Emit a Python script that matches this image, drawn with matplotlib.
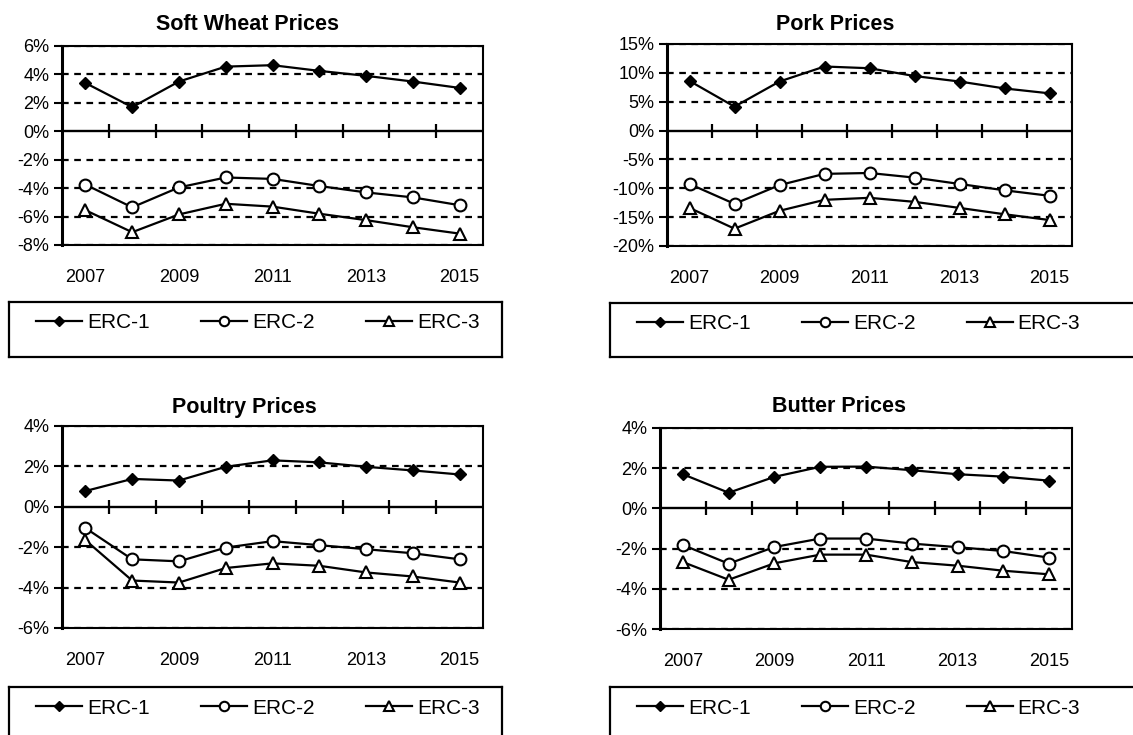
import numpy as np
import matplotlib
matplotlib.use("Agg")
import matplotlib.pyplot as plt
from matplotlib.ticker import FuncFormatter

plt.rcParams['font.family'] = ['Liberation Sans', 'DejaVu Sans']
plt.rcParams['font.size'] = 13

years = [2007, 2008, 2009, 2010, 2011, 2012, 2013, 2014, 2015]
year_labels = ['2007', '2009', '2011', '2013', '2015']
series_names = ['ERC-1', 'ERC-2', 'ERC-3']

wheat_erc1 = [3.4, 1.7, 3.5, 4.55, 4.65, 4.25, 3.9, 3.5, 3.05]
wheat_erc2 = [-3.75, -5.35, -3.95, -3.25, -3.35, -3.85, -4.3, -4.65, -5.2]
wheat_erc3 = [-5.55, -7.1, -5.85, -5.1, -5.3, -5.8, -6.25, -6.75, -7.2]

pork_erc1 = [8.6, 4.15, 8.5, 11.1, 10.8, 9.45, 8.5, 7.3, 6.45]
pork_erc2 = [-9.25, -12.7, -9.45, -7.5, -7.35, -8.15, -9.25, -10.35, -11.3]
pork_erc3 = [-13.4, -17.0, -13.9, -12.0, -11.65, -12.35, -13.4, -14.5, -15.5]

poultry_erc1 = [0.78, 1.38, 1.3, 1.98, 2.3, 2.2, 1.98, 1.8, 1.6]
poultry_erc2 = [-1.05, -2.6, -2.7, -2.02, -1.7, -1.9, -2.1, -2.3, -2.6]
poultry_erc3 = [-1.65, -3.65, -3.75, -3.03, -2.8, -2.92, -3.25, -3.45, -3.75]

butter_erc1 = [1.7, 0.78, 1.57, 2.07, 2.08, 1.9, 1.7, 1.58, 1.38]
butter_erc2 = [-1.82, -2.75, -1.92, -1.5, -1.5, -1.75, -1.93, -2.12, -2.45]
butter_erc3 = [-2.67, -3.55, -2.73, -2.3, -2.3, -2.67, -2.85, -3.1, -3.28]

W, H = 1133, 735
fig = plt.figure(figsize=(W / 100, H / 100), dpi=100)


def fbox(x0, y0, x1, y1):
    # pixel box (top-left origin) -> figure fraction rect
    return [x0 / W, 1 - y1 / H, (x1 - x0) / W, (y1 - y0) / H]


panels = [
    dict(title='Soft Wheat Prices', data=[wheat_erc1, wheat_erc2, wheat_erc3],
         ylim=(-8, 6), step=2, box=(62, 46, 483, 245), tpos=(248, 25),
         leg=(9, 302, 502, 357)),
    dict(title='Pork Prices', data=[pork_erc1, pork_erc2, pork_erc3],
         ylim=(-20, 15), step=5, box=(667, 44, 1072, 246), tpos=(835, 24),
         leg=(610, 303, 1140, 357)),
    dict(title='Poultry Prices', data=[poultry_erc1, poultry_erc2, poultry_erc3],
         ylim=(-6, 4), step=2, box=(62, 426, 483, 628), tpos=(244, 407),
         leg=(9, 687, 502, 745)),
    dict(title='Butter Prices', data=[butter_erc1, butter_erc2, butter_erc3],
         ylim=(-6, 4), step=2, box=(660, 428, 1072, 629), tpos=(839, 407),
         leg=(610, 687, 1140, 745)),
]

styles = [
    dict(marker='D', ms=6.5, mfc='black', mec='black'),
    dict(marker='o', ms=8.5, mfc='white', mec='black', mew=1.5),
    dict(marker='^', ms=9, mfc='white', mec='black', mew=1.5),
]

x = np.arange(len(years))
for p in panels:
    ax = fig.add_axes(fbox(*p['box']))
    lo, hi = p['ylim']
    yt = np.arange(lo, hi + 0.01, p['step'])
    for yv in yt:
        if yv != 0:
            ax.axhline(yv, color='black', lw=1.6, ls=(0, (3, 2.5)), zorder=1)
    ax.axhline(0, color='black', lw=1.7, zorder=2)
    bounds = np.arange(len(years) - 1) + 0.5
    ax.plot(bounds, np.zeros(len(bounds)), ls='none', marker='|', ms=10,
            mew=1.6, color='black', zorder=2)
    handles = []
    for vals, st, name in zip(p['data'], styles, series_names):
        h, = ax.plot(x, vals, color='black', lw=1.6, label=name, zorder=3,
                     clip_on=False, **st)
        handles.append(h)
    ax.set_xlim(-0.5, len(years) - 0.5)
    ax.set_ylim(lo, hi)
    ax.set_yticks(yt)
    ax.yaxis.set_major_formatter(FuncFormatter(lambda v, _: f'{v:.0f}%'))
    ax.set_xticks(x[::2])
    ax.set_xticklabels(year_labels)
    ax.tick_params(axis='x', length=0, pad=17, labelsize=13)
    ax.tick_params(axis='y', length=6, width=1.5, pad=3, labelsize=13)
    for side in ['top', 'right', 'bottom']:
        ax.spines[side].set_linewidth(1.5)
    ax.spines['left'].set_linewidth(2.2)
    fig.text(p['tpos'][0] / W, 1 - p['tpos'][1] / H, p['title'],
             ha='center', va='center', fontsize=15.5, fontweight='bold')

    lx0, ly0, lx1, ly1 = p['leg']
    lax = fig.add_axes(fbox(lx0, ly0, lx1, ly1))
    lax.set_xticks([])
    lax.set_yticks([])
    lax.patch.set_alpha(0)
    for s in lax.spines.values():
        s.set_linewidth(1.6)
    fig.legend(handles=handles, loc='center left', ncol=3, frameon=False,
               bbox_to_anchor=((lx0 + 17) / W, 1 - (ly0 + 21) / H),
               handlelength=2.2, handletextpad=0.25, columnspacing=2.45,
               markerscale=0.8, borderpad=0, fontsize=15)

fig.savefig('out.png', dpi=100)
